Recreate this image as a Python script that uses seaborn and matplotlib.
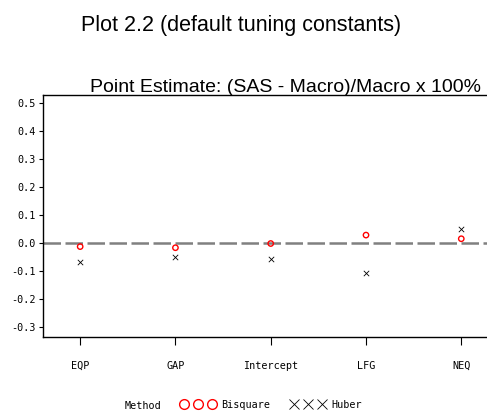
import pandas as pd
import matplotlib
matplotlib.use('Agg')
import matplotlib.pyplot as plt
import seaborn as sns
from matplotlib.lines import Line2D

# values
parameters = ['EQP', 'GAP', 'Intercept', 'LFG', 'NEQ']
bisquare = [-0.013, -0.017, -0.002, 0.028, 0.015]
huber = [-0.069, -0.050, -0.057, -0.108, 0.049]
y_ticks = [-0.3, -0.2, -0.1, 0.0, 0.1, 0.2, 0.3, 0.4, 0.5]

df_bis = pd.DataFrame({'Parameter': parameters, 'Value': bisquare})
df_hub = pd.DataFrame({'Parameter': parameters, 'Value': huber})

sns.set_style('white')
plt.rcParams['font.family'] = ['Liberation Sans', 'DejaVu Sans']
plt.rcParams['text.color'] = 'black'
plt.rcParams['xtick.color'] = 'black'
plt.rcParams['ytick.color'] = 'black'

mono = {'family': 'DejaVu Sans Mono', 'size': 7.3}

fig = plt.figure(figsize=(4.87, 4.12), dpi=100)
ax = fig.add_axes([43 / 487, 75 / 412, 1 - 43 / 487, 242 / 412])

# hollow red circles for Bisquare, black crosses for Huber
sns.scatterplot(data=df_bis, x='Parameter', y='Value', marker='o', s=15,
                facecolor='none', edgecolor='red', linewidth=1.0, ax=ax, zorder=3)
sns.scatterplot(data=df_hub, x='Parameter', y='Value', marker='x', s=15,
                color='black', linewidth=0.6, ax=ax, zorder=3)

ax.axhline(0, color='#808080', linestyle=(0, (7, 1.8)), linewidth=1.8, zorder=2)

ax.set_xlim(-0.39, 4.27)
ax.set_ylim(-0.335, 0.527)
ax.set_yticks(y_ticks)
ax.set_yticklabels([f'{t:.1f}' for t in y_ticks], **mono)
ax.set_xticks(range(len(parameters)))
ax.set_xticklabels(parameters, **mono)
ax.tick_params(axis='y', length=3, width=0.8, direction='out', pad=2, left=True)
ax.tick_params(axis='x', length=6, width=0.8, direction='out', pad=11, bottom=True)
ax.set_xlabel('')
ax.set_ylabel('')
for side in ['left', 'bottom', 'top']:
    ax.spines[side].set_color('black')
    ax.spines[side].set_linewidth(1.0)
ax.spines['right'].set_visible(False)

fig.text(241 / 487, 1 - 25 / 412, 'Plot 2.2 (default tuning constants)',
         ha='center', va='center', fontsize=15.5)
fig.text(285 / 487, 1 - 87 / 412, 'Point Estimate: (SAS - Macro)/Macro x 100%',
         ha='center', va='center', fontsize=14)

# legend at the bottom
handles = [
    Line2D([], [], linestyle='none', marker='o', markerfacecolor='none',
           markeredgecolor='red', markersize=7, markeredgewidth=1.0),
    Line2D([], [], linestyle='none', marker='x', color='black',
           markersize=7, markeredgewidth=0.6),
]
fig.text(125 / 487, 1 - 406 / 412, 'Method', ha='left', va='center', **mono)
fig.legend(handles, ['Bisquare', 'Huber'], ncol=2, numpoints=3, frameon=False,
           loc='center left', bbox_to_anchor=(181 / 487, 1 - 405 / 412),
           prop=mono, handlelength=3.4, handletextpad=0.6, columnspacing=2.0,
           borderaxespad=0, borderpad=0)

fig.savefig('out.png', dpi=100)
